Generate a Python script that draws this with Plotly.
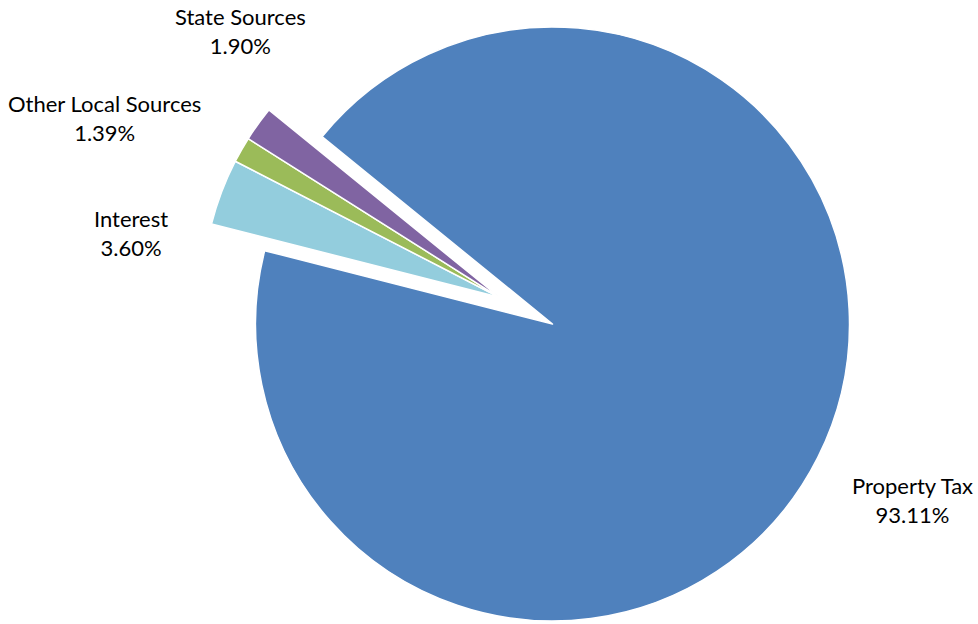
import math
import plotly.graph_objects as go

# Revenue sources (percent of total)
labels = ["Property Tax", "Interest", "Other Local Sources", "State Sources"]
values = [93.11, 3.60, 1.39, 1.90]
colors = ["#4F81BD", "#93CDDD", "#9BBB59", "#8064A2"]

# Slices drawn pulled out of the main pie as one exploded group
exploded = [False, True, True, True]

W, H = 978, 624
CX, CY, R = 552.5, 324.0, 297.0        # pie centre / radius in pixels
EXPLODE_PX = 59.5                      # distance the small slices are pulled out
ROTATION = -50.9                       # start angle of the first slice (clockwise from 12 o'clock)

# Label anchors (pixel centres of the two-line label blocks)
label_pos = {
    "Property Tax": (912, 500),
    "Interest": (130.5, 233),
    "Other Local Sources": (104.5, 118),
    "State Sources": (240, 31),
}

FONT = "Lato"
TRANSPARENT = "rgba(0,0,0,0)"


def domain_for(cx, cy, r):
    x0 = max(0.0, (cx - r) / W)
    x1 = min(1.0, (cx + r) / W)
    y0 = max(0.0, (H - cy - r) / H)
    y1 = min(1.0, (H - cy + r) / H)
    return dict(x=[x0, x1], y=[y0, y1])


# Angular extent of the exploded group, measured clockwise from 12 o'clock
total = sum(values)
angle = ROTATION
group_start = group_end = None
for v, e in zip(values, exploded):
    span = 360.0 * v / total
    if e:
        if group_start is None:
            group_start = angle
        group_end = angle + span
    angle += span
mid = math.radians((group_start + group_end) / 2.0)
dx = EXPLODE_PX * math.sin(mid)
dy = -EXPLODE_PX * math.cos(mid)


def pie_trace(show, domain):
    return go.Pie(
        labels=labels,
        values=values,
        sort=False,
        direction="clockwise",
        rotation=ROTATION,
        textinfo="none",
        hoverinfo="label+percent",
        showlegend=False,
        domain=domain,
        marker=dict(
            colors=[c if s else TRANSPARENT for c, s in zip(colors, show)],
            line=dict(
                color=["#FFFFFF" if s else TRANSPARENT for s in show],
                width=[1.5 if s else 0 for s in show],
            ),
        ),
    )


fig = go.Figure()
fig.add_trace(pie_trace([not e for e in exploded], domain_for(CX, CY, R)))
fig.add_trace(pie_trace(exploded, domain_for(CX + dx, CY + dy, R)))

for lab, v in zip(labels, values):
    px, py = label_pos[lab]
    fig.add_annotation(
        x=px / W, y=1 - py / H, xref="paper", yref="paper",
        text=f"{lab}<br>{v:.2f}%",
        showarrow=False, align="center",
        xanchor="center", yanchor="middle",
        font=dict(family=FONT, size=22, color="#000000"),
    )

fig.update_layout(
    width=W, height=H,
    margin=dict(l=0, r=0, t=0, b=0),
    paper_bgcolor="#FFFFFF",
    plot_bgcolor="#FFFFFF",
)

fig.write_html("out.html")
